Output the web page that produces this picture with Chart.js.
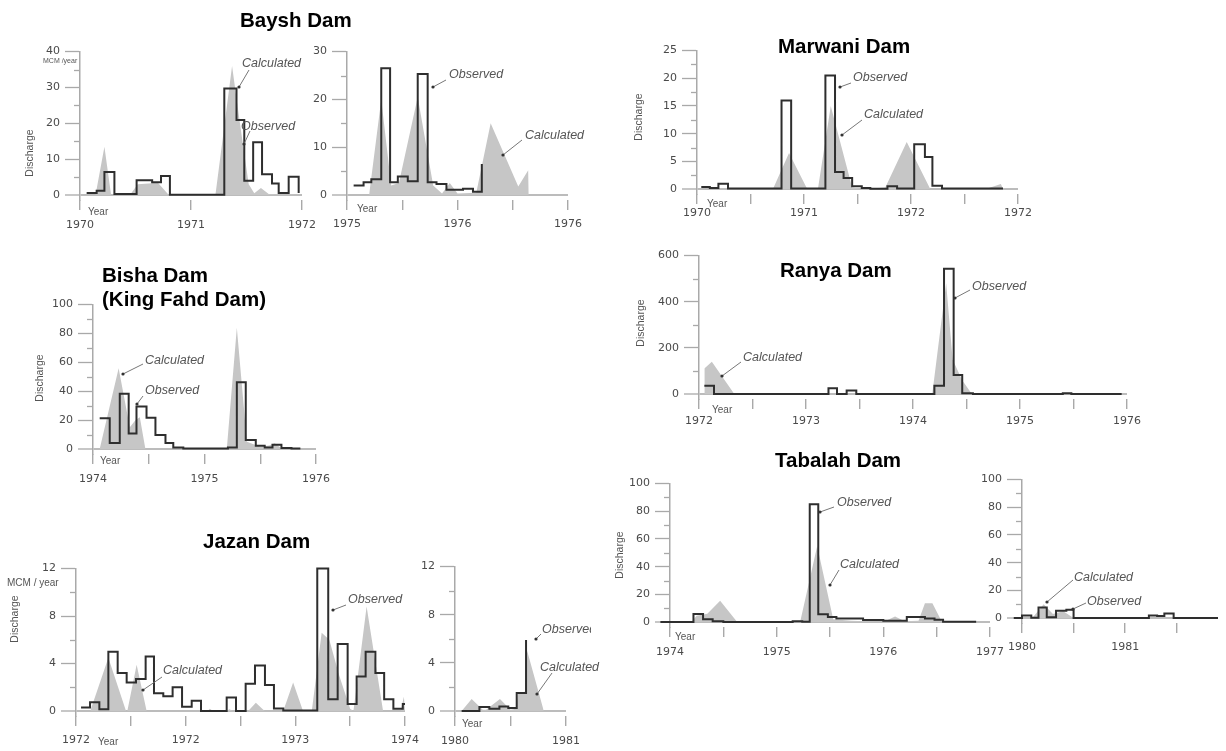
<!DOCTYPE html>
<html><head><meta charset="utf-8">
<script src="https://cdn.jsdelivr.net/npm/chart.js@4.4.1/dist/chart.umd.min.js"></script>
<style>
html,body{margin:0;padding:0;background:#fff}
body{position:relative;width:1226px;height:751px;overflow:hidden;font-family:"Liberation Sans",Arial,sans-serif}
canvas{position:absolute}
svg{position:absolute;left:0;top:0;z-index:5;pointer-events:none}
</style></head><body>
<script>
// ================= DATA =================
// Baysh Dam (left panel)
const bayshA_obsX = [1970.06,1970.15,1970.22,1970.31,1970.51,1970.65,1970.73,1970.81,1971.30,1971.41,1971.48,1971.56,1971.64,1971.73,1971.79,1971.88,1971.97];
const bayshA_obsY = [0.6,1.2,6.4,0.3,4.1,3.6,5.3,0.1,29.7,20.9,4.0,14.7,5.8,3.2,0.6,5.1,0.6];
const bayshA_calX = [1970.00,1970.14,1970.22,1970.28,1970.45,1970.52,1970.62,1970.70,1970.80,1971.22,1971.37,1971.45,1971.52,1971.57,1971.63,1971.70,1972.00];
const bayshA_calY = [0,0,13.5,0,0,3.0,3.2,3.5,0,0,36,18,3,0.5,2,0.3,0];
// Baysh Dam (right panel)
const bayshB_obsX = [1975.06,1975.15,1975.22,1975.31,1975.39,1975.46,1975.55,1975.64,1975.73,1975.81,1975.90,1976.05,1976.14,1976.22];
const bayshB_obsY = [2.0,2.7,3.3,26.5,2.7,3.9,2.9,25.3,2.7,2.3,1.1,1.3,0.7,6.5];
const bayshB_calX = [1975.20,1975.31,1975.40,1975.47,1975.64,1975.78,1975.86,1975.93,1976.00,1976.17,1976.30,1976.55,1976.64,1976.645];
const bayshB_calY = [0,20,2,2.5,20.5,2,0.3,2.5,0.3,0.5,15,1.8,5.2,0];
// Marwani Dam
const marwani_obsX = [1970.04,1970.12,1970.20,1970.29,1970.79,1970.88,1971.20,1971.29,1971.37,1971.45,1971.54,1971.62,1971.78,1971.87,1972.03,1972.13,1972.20,1972.29,1972.86];
const marwani_obsY = [0.36,0.2,0.95,0.1,16.0,0.1,20.5,3.1,2.0,0.5,0.2,0.05,0.5,0.1,8.1,5.8,0.6,0.1,0.1];
const marwani_calX = [1970.71,1970.86,1971.03,1971.13,1971.25,1971.45,1971.55,1971.76,1971.96,1972.18,1972.70,1972.84,1972.86];
const marwani_calY = [0,6.5,0,0,15.0,0.3,0,0.3,8.5,0,0,0.9,0];
// Bisha Dam (King Fahd Dam)
const bisha_obsX = [1974.06,1974.15,1974.24,1974.32,1974.39,1974.48,1974.56,1974.65,1974.72,1974.81,1975.21,1975.29,1975.37,1975.46,1975.54,1975.61,1975.69,1975.78,1975.86];
const bisha_obsY = [21.3,4.1,38.2,10.8,29.5,21.7,9.8,4.1,1.1,0.3,1.0,46.2,6.2,2.3,1.1,3.0,0.7,0.4,0.4];
const bisha_calX = [1974.06,1974.23,1974.33,1974.38,1974.42,1974.47,1975.20,1975.29,1975.38,1975.50,1975.58,1975.63,1975.68,1975.80];
const bisha_calY = [0,56,15,20,22,0,0,84,5,1.5,2.5,4,1,0];
// Ranya Dam
const ranya_obsX = [1972.05,1972.14,1973.21,1973.29,1973.38,1973.47,1974.20,1974.29,1974.38,1974.46,1974.56,1975.40,1975.48,1975.95];
const ranya_obsY = [35.6,0,25.7,0,15.7,0,35.6,543,82.7,4,0,3,0,0];
const ranya_calX = [1972.05,1972.12,1972.33,1974.18,1974.31,1974.37,1974.46,1974.55];
const ranya_calY = [111,140,0,0,480,150,60,0];
// Jazan Dam (left panel)
const jazanA_obsX = [1972.046,1972.128,1972.213,1972.295,1972.38,1972.462,1972.547,1972.635,1972.711,1972.796,1972.881,1972.967,1973.055,1973.14,1973.374,1973.459,1973.547,1973.632,1973.723,1973.805,1973.89,1974.20,1974.30,1974.386,1974.477,1974.559,1974.641,1974.73,1974.81,1974.894,1974.98,1975.0];
const jazanA_obsY = [0.3,0.75,0.15,5.0,3.2,2.4,2.7,4.6,1.5,1.25,2.0,0.36,0.86,0.0,1.14,0.0,2.3,3.84,2.2,0.22,0.05,12,1.0,5.65,0.6,2.9,5.0,3.2,1.0,0.2,0.6,0.6];
const jazanA_calX = [1972.13,1972.295,1972.456,1972.468,1972.553,1972.644,1973.20,1973.22,1973.25,1973.37,1973.40,1973.43,1973.57,1973.64,1973.72,1973.89,1973.98,1974.07,1974.15,1974.24,1974.31,1974.40,1974.50,1974.53,1974.65,1974.80,1974.96,1974.99,1975.0];
const jazanA_calY = [0,4.5,0,0,3.9,0,0,0.2,0,0,0.15,0,0,0.7,0,0,2.4,0,0,6.6,6.0,3.0,0.2,0,8.8,0,0,1.2,0];
// Jazan Dam (right panel)
const jazanB_obsX = [1980.06,1980.22,1980.31,1980.40,1980.48,1980.556,1980.64];
const jazanB_obsY = [0,0.33,0.2,0.38,0.25,1.5,5.9];
const jazanB_calX = [1980.06,1980.15,1980.25,1980.28,1980.405,1980.50,1980.55,1980.57,1980.63,1980.65,1980.80];
const jazanB_calY = [0,1.0,0.1,0.1,1.0,0.1,0.2,1.5,1.6,5.0,0];
// Tabalah Dam (left panel)
const tabalahA_obsX = [1973.91,1974.22,1974.31,1974.40,1974.50,1975.15,1975.24,1975.31,1975.39,1975.48,1975.56,1975.81,1976.00,1976.22,1976.39,1976.48,1976.56,1976.87];
const tabalahA_obsY = [0,5.9,2.1,0.5,0,0.5,0.2,85,5.7,3.6,2.6,1.5,1.0,3.6,2.6,1.7,0.2,0.2];
const tabalahA_calX = [1974.20,1974.25,1974.35,1974.47,1974.63,1975.22,1975.38,1975.53,1975.70,1976.00,1976.11,1976.20,1976.33,1976.39,1976.46,1976.55];
const tabalahA_calY = [0,4.5,6,15.4,0,0,55,2,1,0,4,0.5,1,13.5,13.5,0];
// Tabalah Dam (right panel)
const tabalahB_obsX = [1979.92,1980.00,1980.09,1980.16,1980.24,1980.33,1980.43,1980.50,1981.23,1981.31,1981.38,1981.47,1981.90];
const tabalahB_obsY = [0,1.9,0.2,7.6,0.5,5.2,6.0,0,1.9,1.4,3.3,0,0];
const tabalahB_calX = [1980.10,1980.21,1980.30,1980.40,1980.50];
const tabalahB_calY = [0,10,3,5,0];

// Tick values and labels
const xTicks_bayshA = [1970,1971,1972];           const xLabels_bayshA = ["1970","1971","1972"];
const xTicks_bayshB = [1975,1975.5,1976,1976.5,1977]; const xLabels_bayshB = ["1975","","1976","","1976"];
const xTicks_marwani = [1970,1970.5,1971,1971.5,1972,1972.5,1973]; const xLabels_marwani = ["1970","","1971","","1972","","1972"];
const xTicks_bisha = [1974,1974.5,1975,1975.5,1976]; const xLabels_bisha = ["1974","","1975","","1976"];
const xTicks_ranya = [1972,1972.5,1973,1973.5,1974,1974.5,1975,1975.5,1976]; const xLabels_ranya = ["1972","","1973","","1974","","1975","","1976"];
const xTicks_jazanA = [1972,1972.5,1973,1973.5,1974,1974.5,1975]; const xLabels_jazanA = ["1972","","1972","","1973","","1974"];
const xTicks_jazanB = [1980,1980.5,1981]; const xLabels_jazanB = ["1980","","1981"];
const xTicks_tabalahA = [1974,1974.5,1975,1975.5,1976,1976.5,1977]; const xLabels_tabalahA = ["1974","","1975","","1976","","1977"];
const xTicks_tabalahB = [1980,1980.5,1981,1981.5]; const xLabels_tabalahB = ["1980","","1981",""];

const yTicks_bayshA = [0,10,20,30,40];  const yMinor_bayshA = [5,15,25,35];
const yTicks_bayshB = [0,10,20,30];     const yMinor_bayshB = [5,15,25];
const yTicks_marwani = [0,5,10,15,20,25]; const yMinor_marwani = [2.5,7.5,12.5,17.5,22.5];
const yTicks_bisha = [0,20,40,60,80,100]; const yMinor_bisha = [10,30,50,70,90];
const yTicks_ranya = [0,200,400,600];   const yMinor_ranya = [100,300,500];
const yTicks_jazan = [0,4,8,12];        const yMinor_jazan = [2,6,10];
const yTicks_tabalah = [0,20,40,60,80,100]; const yMinor_tabalah = [10,30,50,70,90];

// ================= LAYOUT (page pixels) =================
const panels = [
 {obsX:bayshA_obsX,obsY:bayshA_obsY,calX:bayshA_calX,calY:bayshA_calY,xMin:1970,xMax:1972,px:[80,302],yMax:40,yTop:50,y0:195,xT:xTicks_bayshA,xL:xLabels_bayshA,yT:yTicks_bayshA,yM:yMinor_bayshA,lab:30},
 {obsX:bayshB_obsX,obsY:bayshB_obsY,calX:bayshB_calX,calY:bayshB_calY,xMin:1975,xMax:1977,px:[347,568],yMax:30,yTop:50,y0:194.7,xT:xTicks_bayshB,xL:xLabels_bayshB,yT:yTicks_bayshB,yM:yMinor_bayshB,lab:29},
 {obsX:marwani_obsX,obsY:marwani_obsY,calX:marwani_calX,calY:marwani_calY,xMin:1970,xMax:1973,px:[697,1018],yMax:25,yTop:49,y0:189.3,xT:xTicks_marwani,xL:xLabels_marwani,yT:yTicks_marwani,yM:yMinor_marwani,lab:24},
 {obsX:bisha_obsX,obsY:bisha_obsY,calX:bisha_calX,calY:bisha_calY,xMin:1974,xMax:1976,px:[93,316],yMax:100,yTop:302.7,y0:448.3,xT:xTicks_bisha,xL:xLabels_bisha,yT:yTicks_bisha,yM:yMinor_bisha,lab:30},
 {obsX:ranya_obsX,obsY:ranya_obsY,calX:ranya_calX,calY:ranya_calY,xMin:1972,xMax:1976,px:[699,1127],yMax:600,yTop:254,y0:394.3,xT:xTicks_ranya,xL:xLabels_ranya,yT:yTicks_ranya,yM:yMinor_ranya,lab:27},
 {obsX:jazanA_obsX,obsY:jazanA_obsY,calX:jazanA_calX,calY:jazanA_calY,xMin:1972,xMax:1975,px:[76,405],yMax:12,yTop:567.3,y0:711,xT:xTicks_jazanA,xL:xLabels_jazanA,yT:yTicks_jazan,yM:yMinor_jazan,lab:29},
 {obsX:jazanB_obsX,obsY:jazanB_obsY,calX:jazanB_calX,calY:jazanB_calY,xMin:1980,xMax:1981,px:[455,566],yMax:12,yTop:565,y0:710.7,xT:xTicks_jazanB,xL:xLabels_jazanB,yT:yTicks_jazan,yM:yMinor_jazan,lab:30},
 {obsX:tabalahA_obsX,obsY:tabalahA_obsY,calX:tabalahA_calX,calY:tabalahA_calY,xMin:1974,xMax:1977,px:[670,990],yMax:100,yTop:481.7,y0:622,xT:xTicks_tabalahA,xL:xLabels_tabalahA,yT:yTicks_tabalah,yM:yMinor_tabalah,lab:30},
 {obsX:tabalahB_obsX,obsY:tabalahB_obsY,calX:tabalahB_calX,calY:tabalahB_calY,xMin:1980,xMax:1981.9,px:[1022,1218],yMax:100,yTop:478.3,y0:618.3,xT:xTicks_tabalahB,xL:xLabels_tabalahB,yT:yTicks_tabalah,yM:yMinor_tabalah,lab:29}
];

const AXIS = '#a9a9a9', LABEL = '#4a4a4a', FILL = '#c6c6c6', OBS = '#2e2e2e';
const TICKFONT = {family:'"DejaVu Sans", sans-serif', size:11};

const minorTicks = {
  id:'minorTicks',
  afterDraw(chart, args, opts){
    const y = chart.scales.y, ctx = chart.ctx, left = chart.chartArea.left;
    ctx.save(); ctx.strokeStyle = AXIS; ctx.lineWidth = 1.3;
    (opts.values||[]).forEach(v=>{
      const py = Math.round(y.getPixelForValue(v))+0.5;
      ctx.beginPath(); ctx.moveTo(left-6,py); ctx.lineTo(left,py); ctx.stroke();
    });
    ctx.restore();
  }
};

const pts = (xs,ys)=>xs.map((x,i)=>({x:x,y:ys[i]}));

panels.forEach(p=>{
  const padL=55, padR=25, padT=10, axisH=44, below=5;
  const cv = document.createElement('canvas');
  const w = Math.round(p.px[1]-p.px[0]+padL+padR);
  const h = Math.round(p.y0+below-p.yTop+padT+axisH);
  cv.width=w; cv.height=h;
  cv.style.left=(p.px[0]-padL)+'px'; cv.style.top=(p.yTop-padT)+'px';
  cv.style.width=w+'px'; cv.style.height=h+'px';
  document.body.appendChild(cv);
  const ppu = (p.y0-p.yTop)/p.yMax;
  const yMin = -below/ppu;
  const xPad = Math.max(0, p.lab - below - 10 - 6.6);
  new Chart(cv,{
    type:'line',
    data:{datasets:[
      {label:'Observed',data:pts(p.obsX,p.obsY),stepped:'before',borderColor:OBS,borderWidth:2,pointRadius:0,fill:false,clip:false},
      {label:'Calculated',data:pts(p.calX,p.calY),borderColor:'rgba(0,0,0,0)',borderWidth:0,backgroundColor:FILL,fill:'origin',pointRadius:0,tension:0}
    ]},
    options:{
      responsive:false, animation:false, events:[], devicePixelRatio:1,
      layout:{padding:{left:0,right:padR,top:padT,bottom:0}},
      plugins:{legend:{display:false},tooltip:{enabled:false},minorTicks:{values:p.yM}},
      scales:{
        x:{type:'linear',min:p.xMin,max:p.xMax,
           afterFit:s=>{s.height=axisH;},
           afterBuildTicks:s=>{s.ticks=p.xT.map(v=>({value:v}));},
           ticks:{autoSkip:false,maxRotation:0,minRotation:0,padding:xPad,font:TICKFONT,color:LABEL,
                  callback:(v,i)=>p.xL[i]},
           grid:{drawOnChartArea:false,drawTicks:true,tickLength:10,color:AXIS,lineWidth:1.4},
           border:{display:false}},
        y:{type:'linear',min:yMin,max:p.yMax,
           afterFit:s=>{s.width=padL;},
           afterBuildTicks:s=>{s.ticks=p.yT.map(v=>({value:v}));},
           ticks:{padding:5,font:TICKFONT,color:LABEL,callback:v=>String(v)},
           grid:{drawOnChartArea:true,drawTicks:true,tickLength:15,
                 color:c=>(c.tick&&c.tick.value===0)?'#bcbcbc':'rgba(0,0,0,0)',
                 lineWidth:c=>(c.tick&&c.tick.value===0)?2:1,
                 tickColor:AXIS,tickWidth:1.3},
           border:{display:true,color:AXIS,width:1.5}}
      }
    },
    plugins:[minorTicks]
  });
});

// ================= TEXT OVERLAY =================
const titles = [
  ["Baysh Dam",240,27],["Marwani Dam",778,53],["Bisha Dam",102,282],["(King Fahd Dam)",102,306],
  ["Ranya Dam",780,277],["Jazan Dam",203,548],["Tabalah Dam",775,467]
];
const yTitles = [[29,153],[638,117],[39,378],[640,323],[14,619],[619,555]];
const yearLabels = [[88,211],[357,208],[707,203],[100,460],[712,409],[98,741],[462,723],[675,636]];
// [text, textX, textCenterY, lineX1, lineY1, dotX, dotY, clipRight]
const notes = [
  ["Calculated",242,63,249,70,239,87],["Observed",241,126,250,131,244,144],
  ["Observed",449,74,446,80,433,87],["Calculated",525,135,522,140,503,155],
  ["Observed",853,77,851,83,840,87],["Calculated",864,114,862,120,842,135],
  ["Calculated",145,360,143,364,123,374],["Observed",145,390,143,396,137,404],
  ["Observed",972,286,970,290,955,298],["Calculated",743,357,741,362,722,376],
  ["Observed",348,599,346,605,333,610],["Calculated",163,670,162,677,143,690],
  ["Observed",542,629,541,634,536,639,591],["Calculated",540,667,552,673,537,694],
  ["Observed",837,502,834,507,820,512],["Calculated",840,564,839,570,830,585],
  ["Calculated",1074,577,1073,580,1047,602],["Observed",1087,601,1086,603,1073,609]
];
let s = '<svg xmlns="http://www.w3.org/2000/svg" width="1226" height="751"><defs><clipPath id="cr"><rect x="0" y="0" width="591" height="751"/></clipPath></defs>';
titles.forEach(t=>{ s+=`<text x="${t[1]}" y="${t[2]}" font-family="Liberation Sans, Arial" font-weight="bold" font-size="20.5" fill="#000">${t[0]}</text>`; });
yTitles.forEach(t=>{ s+=`<text x="0" y="0" transform="translate(${t[0]},${t[1]}) rotate(-90)" text-anchor="middle" dominant-baseline="central" font-family="Liberation Sans, Arial" font-size="10.5" fill="#555">Discharge</text>`; });
yearLabels.forEach(t=>{ s+=`<text x="${t[0]}" y="${t[1]}" dominant-baseline="central" font-family="Liberation Sans, Arial" font-size="10" fill="#555">Year</text>`; });
s+=`<text x="43" y="60" dominant-baseline="central" font-family="Liberation Sans, Arial" font-size="7" fill="#555">MCM /year</text>`;
s+=`<text x="7" y="582" dominant-baseline="central" font-family="Liberation Sans, Arial" font-size="10" fill="#555">MCM / year</text>`;
notes.forEach(n=>{
  s+=`<line x1="${n[3]}" y1="${n[4]}" x2="${n[5]}" y2="${n[6]}" stroke="#777" stroke-width="1"/>`;
  s+=`<circle cx="${n[5]}" cy="${n[6]}" r="1.6" fill="#333"/>`;
  s+=`<text x="${n[1]}" y="${n[2]}" dominant-baseline="central" font-family="Liberation Sans, Arial" font-style="italic" font-size="12.5" fill="#555"${n[7]?' clip-path="url(#cr)"':''}>${n[0]}</text>`;
});
s+='</svg>';
document.body.insertAdjacentHTML('beforeend', s);
</script>
</body></html>
